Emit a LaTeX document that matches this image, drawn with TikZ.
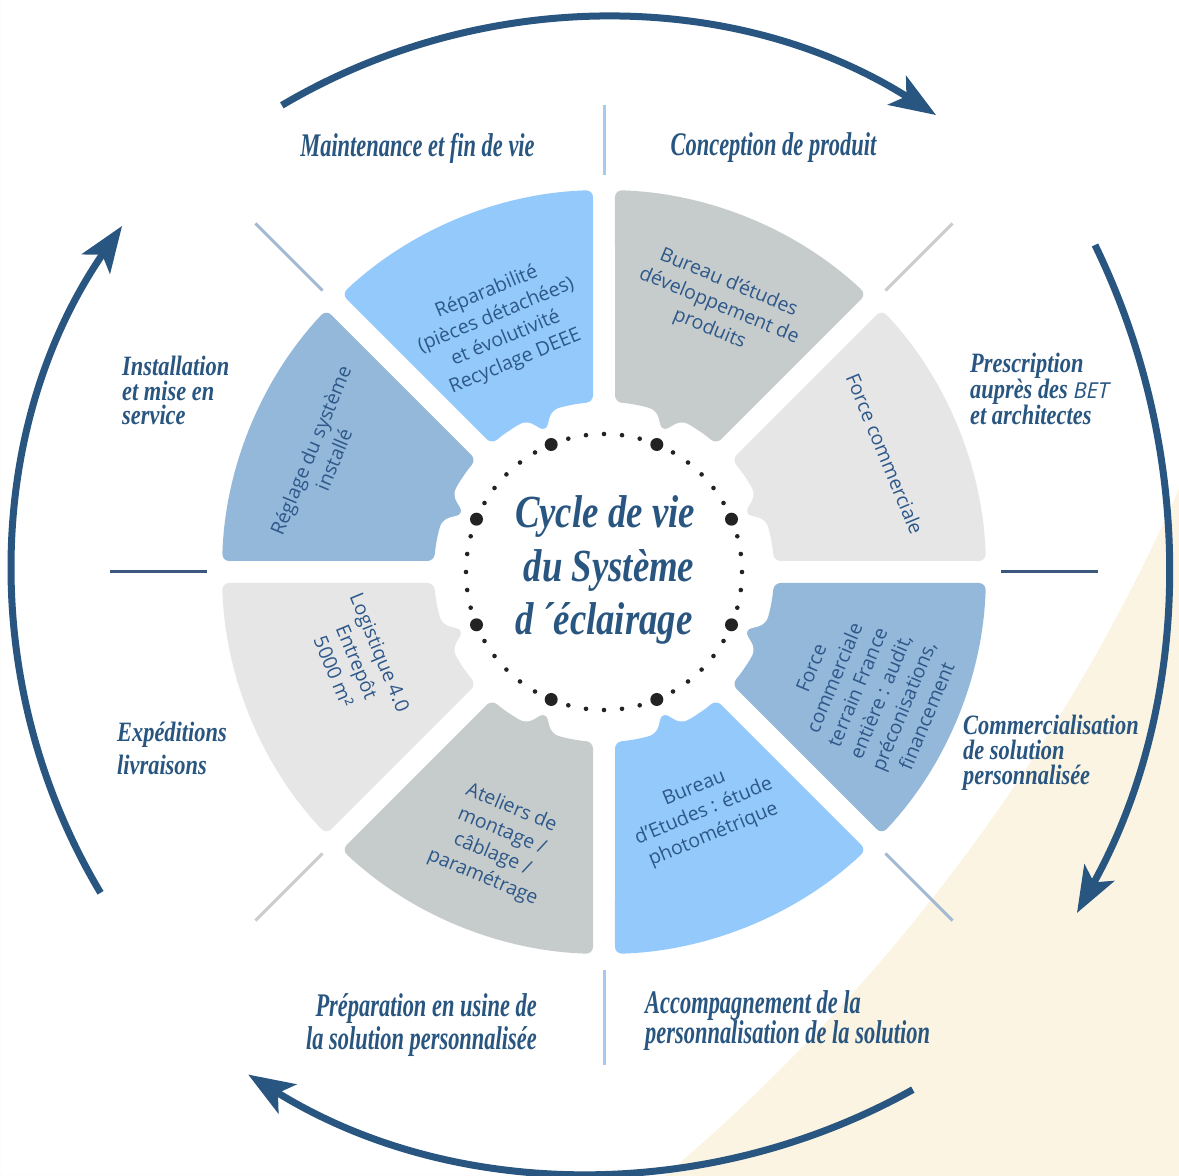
\documentclass[tikz,border=0pt]{standalone}
\usepackage{fontspec}
\setmainfont{Open Sans}
\newfontfamily\opensans{Open Sans}
\newfontfamily\scriptA[FakeStretch=0.8]{Liberation Serif}
\newfontfamily\scriptB[FakeStretch=0.68]{Liberation Serif}
\usetikzlibrary{arrows.meta}
\definecolor{navy}{RGB}{41,86,128}
\definecolor{txtblue}{RGB}{46,88,138}
\definecolor{lblue}{RGB}{147,201,251}
\definecolor{sblue}{RGB}{148,184,218}
\definecolor{mgray}{RGB}{198,204,204}
\definecolor{lgray}{RGB}{230,230,230}
\definecolor{cream}{RGB}{252,244,226}
\definecolor{dotc}{RGB}{35,35,35}
\definecolor{sepdark}{RGB}{60,88,125}
\definecolor{seplb}{RGB}{165,202,238}
\definecolor{sepsteel}{RGB}{163,186,210}
\definecolor{sepgray}{RGB}{204,204,204}
\begin{document}
\begin{tikzpicture}[x=1pt,y=1pt,
  sectxt/.style={font=\opensans\fontsize{19.5}{25}\selectfont, text=txtblue, align=center, inner sep=0pt},
  sidelbl/.style={font=\bfseries\itshape\scriptA\fontsize{28}{25}\selectfont, text=navy, align=left, inner sep=0pt, anchor=base west},
  toplbl/.style={font=\bfseries\itshape\scriptB\fontsize{33}{28}\selectfont, text=navy, inner sep=0pt},
  titlelbl/.style={font=\bfseries\itshape\scriptA\fontsize{46}{53}\selectfont, text=navy, inner sep=0pt, anchor=base},
  cyclearrow/.style={line width=7pt, draw=navy, -{Stealth[length=46pt,width=34pt,inset=11pt]}},
  sepline/.style={line width=3pt},
]
\useasboundingbox (0,0) rectangle (1179,1176);
\fill[white] (0,0) rectangle (1179,1176);
% cream background
\begin{scope}
  \clip (0,0) rectangle (1179,1176);
  \fill[cream, even odd rule] (0,0) rectangle (1179,1176) (-572,1461) circle[radius=1914];
\end{scope}

% cycle arrows
\draw[cyclearrow] ([shift={(120.6:627)}]601,531) arc[start angle=120.6, end angle=57.7, radius=627];
\draw[cyclearrow] ([shift={(25.96:723.5)}]444.5,614.3) arc[start angle=25.96, end angle=-29.05, radius=723.5];
\draw[cyclearrow] ([shift={(-60.8:655)}]593.3,658.1) arc[start angle=-60.8, end angle=-121.8, radius=655];
\draw[cyclearrow] ([shift={(210.9:616.7)}]629.7,599.9) arc[start angle=210.9, end angle=145.4, radius=616.7];

\begin{scope}[shift={(604,604)}]
  % separators
  \draw[sepline, seplb] (90:397) -- (90:467);
  \draw[sepline, seplb] (270:398) -- (270:493);
  \draw[sepline, sepdark] (0:397) -- (0:494);
  \draw[sepline, sepdark] (180:397) -- (180:494);
  \draw[sepline, sepsteel] (135:398) -- (135:493);
  \draw[sepline, sepgray] (45:398) -- (45:493);
  \draw[sepline, sepsteel] (-45:398) -- (-45:493);
  \draw[sepline, sepgray] (-135:398) -- (-135:493);
  % sectors
  \foreach \a/\c in {0/lgray,45/mgray,90/lblue,135/sblue,180/lgray,225/mgray,270/lblue,315/sblue}{
    \fill[\c, rounded corners=7pt]
      ({\a+1.65}:382) arc[start angle={\a+1.65}, end angle={\a+43.35}, radius=382]
      -- ({\a+41.29}:170) arc[start angle={\a+41.29}, end angle={\a+27}, radius=170]
      -- ({\a+22.5}:152) -- ({\a+18}:170)
      arc[start angle={\a+18}, end angle={\a+3.71}, radius=170] -- cycle;
  }
  % dotted ring
  \foreach \k in {0,...,47}{
    \fill[dotc] ({\k*7.5}:138) circle[radius=2.3];
  }
  \foreach \k in {0,...,7}{
    \fill[dotc] ({22.5+\k*45}:138) circle[radius=6.5];
  }
\end{scope}

% sector texts
\node[sectxt, rotate=22.5] (t1) at (501,849) {Réparabilité\\(pièces détachées)\\et évolutivité\\Recyclage DEEE};
\node[sectxt, rotate=-22.5] (t2) at (719,870) {Bureau d’études\\développement de\\produits};
\node[sectxt, rotate=-67.5] (t3) at (885,722) {Force commerciale};
\node[sectxt, rotate=67.5] (t4) at (869,484) {Force\\commerciale\\terrain France\\entière : audit,\\préconisations,\\financement};
\node[sectxt, rotate=22.5] (t5) at (704,364) {Bureau\\d’Etudes : étude\\photométrique};
\node[sectxt, rotate=-22.5] (t6) at (497,333) {Ateliers de\\montage /\\câblage /\\paramétrage};
\node[sectxt, rotate=-67.5] (t7) at (357,514) {Logistique 4.0\\Entrepôt\\5000 m²};
\node[sectxt, rotate=67.5] (t8) at (322,721) {Réglage du système\\installé};

% title
\node[titlelbl] (ti1) at (605,648) {Cycle de vie};
\node[titlelbl] (ti2) at (609,594) {du Système};
\node[titlelbl] (ti3) at (604,541) {d\,´éclairage};

% outer labels (base anchor = baseline of last line)
\node[toplbl, anchor=base] (l1) at (417.5,1019) {Maintenance et fin de vie};
\node[toplbl, anchor=base] (l2) at (773.5,1020) {Conception de produit};
\node[sidelbl, font=\bfseries\itshape\scriptA\fontsize{28}{26}\selectfont] (l3) at (970,751) {Prescription\\auprès des {\opensans\mdseries\itshape\fontsize{22}{26}\selectfont BET}\\et architectes};
\node[sidelbl] (l4) at (963,391) {Commercialisation\\de solution\\personnalisée};
\node[toplbl, anchor=base west, align=left] (l5) at (645,132) {Accompagnement de la\\personnalisation de la solution};
\node[toplbl, anchor=base east, align=right, font=\bfseries\itshape\scriptB\fontsize{33}{33}\selectfont] (l6) at (537,126) {Préparation en usine de\\la solution personnalisée};
\node[sidelbl, font=\bfseries\itshape\scriptA\fontsize{28}{33}\selectfont] (l7) at (117,401) {Expéditions\\livraisons};
\node[sidelbl, font=\bfseries\itshape\scriptA\fontsize{28}{24.5}\selectfont] (l8) at (122,751) {Installation\\et mise en\\service};
\end{tikzpicture}
\end{document}
